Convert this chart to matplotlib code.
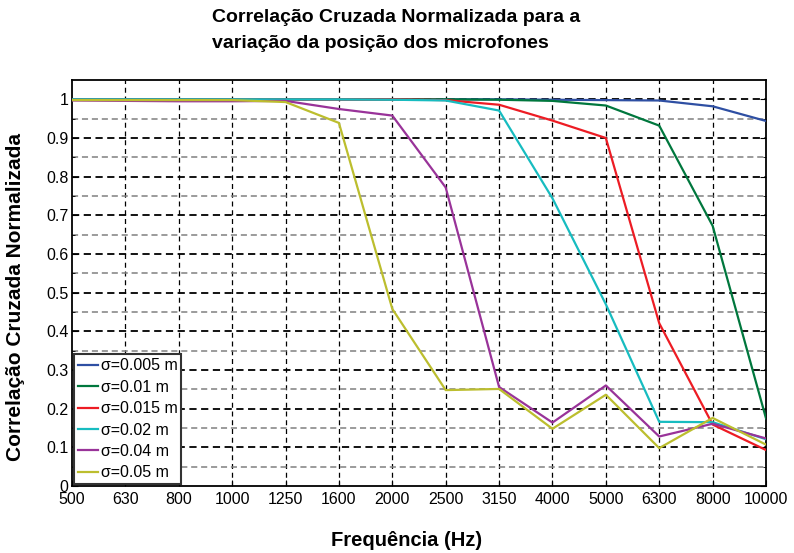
import matplotlib.pyplot as plt
import numpy as np

plt.rcParams['font.family'] = ['Liberation Sans', 'DejaVu Sans']

# frequency bands (Hz), plotted as equally spaced categories
freqs = ['500', '630', '800', '1000', '1250', '1600', '2000', '2500',
         '3150', '4000', '5000', '6300', '8000', '10000']

# normalized cross-correlation for each microphone position deviation
corr_0005 = [1.0, 1.0, 1.0, 1.0, 1.0, 1.0, 1.0, 1.0, 1.0, 0.999, 0.998, 0.997, 0.982, 0.944]
corr_001 = [1.0, 1.0, 1.0, 1.0, 1.0, 1.0, 1.0, 1.0, 0.999, 0.996, 0.984, 0.932, 0.673, 0.175]
corr_0015 = [1.0, 1.0, 1.0, 1.0, 1.0, 1.0, 1.0, 0.998, 0.986, 0.945, 0.90, 0.421, 0.159, 0.093]
corr_002 = [1.0, 1.0, 1.0, 1.0, 1.0, 1.0, 0.999, 0.997, 0.971, 0.744, 0.47, 0.166, 0.165, 0.121]
corr_004 = [0.997, 0.996, 0.995, 0.995, 0.996, 0.975, 0.958, 0.772, 0.256, 0.164, 0.26, 0.128, 0.161, 0.123]
corr_005 = [0.998, 0.998, 0.998, 0.998, 0.993, 0.939, 0.458, 0.248, 0.251, 0.148, 0.236, 0.098, 0.176, 0.107]

labels = ['σ=0.005 m', 'σ=0.01 m', 'σ=0.015 m', 'σ=0.02 m', 'σ=0.04 m', 'σ=0.05 m']
colors = ['#2e4fa3', '#00773d', '#ed1c24', '#17bcc0', '#993399', '#bcbe2e']
series = [corr_0005, corr_001, corr_0015, corr_002, corr_004, corr_005]

W, H = 794, 553
fig = plt.figure(figsize=(W / 100, H / 100), dpi=100)
ax = fig.add_axes([72 / W, 1 - 486 / H, (766 - 72) / W, (486 - 80) / H])

x = np.arange(len(freqs))

# grid: dashed verticals, black dashed at 0.1 steps, grey dashed halfway
for xi in x[1:-1]:
    ax.axvline(xi, color='black', lw=0.9, dashes=(4, 3), zorder=1)
for yv in np.arange(0.1, 1.01, 0.1):
    ax.axhline(yv, color='black', lw=1.3, dashes=(4, 2.5), zorder=1)
for yv in np.arange(0.05, 1.0, 0.1):
    ax.axhline(yv, color='#808080', lw=1.1, dashes=(4, 2.5), zorder=1)

for vals, lab, c in zip(series, labels, colors):
    ax.plot(x, vals, color=c, lw=1.6, label=lab, zorder=3)

ax.set_xlim(0, len(freqs) - 1)
ax.set_ylim(0, 1.05)
ax.set_xticks(x)
ax.set_xticklabels(freqs, fontsize=11.5)
ax.set_yticks(np.arange(0, 1.01, 0.1))
ax.set_yticklabels(['0'] + ['%.1f' % v for v in np.arange(0.1, 0.95, 0.1)] + ['1'], fontsize=11.5)
ax.set_yticks(np.arange(0.05, 1.0, 0.1), minor=True)
ax.tick_params(direction='in', length=4, right=True, top=False)
ax.tick_params(axis='x', pad=4)
ax.tick_params(axis='y', pad=2.5)
ax.tick_params(which='minor', direction='in', length=2.5, right=True)
for s in ax.spines.values():
    s.set_linewidth(1.3)

fig.text(407 / W, 1 - 541 / H, 'Frequência (Hz)', fontsize=14.5, fontweight='bold',
         ha='center', va='center')
fig.text(16 / W, 1 - 297 / H, 'Correlação Cruzada Normalizada', fontsize=15,
         fontweight='bold', ha='center', va='center', rotation=90)

leg = ax.legend(loc='lower left', fontsize=11.5, handlelength=1.3, handletextpad=0.15,
                borderaxespad=0.1, borderpad=0.25, labelspacing=0.4, fancybox=False)
leg.get_frame().set_edgecolor('#333333')
leg.get_frame().set_linewidth(1.5)
leg.get_frame().set_alpha(1)

fig.text(212 / W, 1 - 17 / H, 'Correlação Cruzada Normalizada para a',
         fontsize=14, fontweight='bold', ha='left', va='center')
fig.text(212 / W, 1 - 43 / H, 'variação da posição dos microfones',
         fontsize=14, fontweight='bold', ha='left', va='center')

fig.savefig('out.png', dpi=100)
